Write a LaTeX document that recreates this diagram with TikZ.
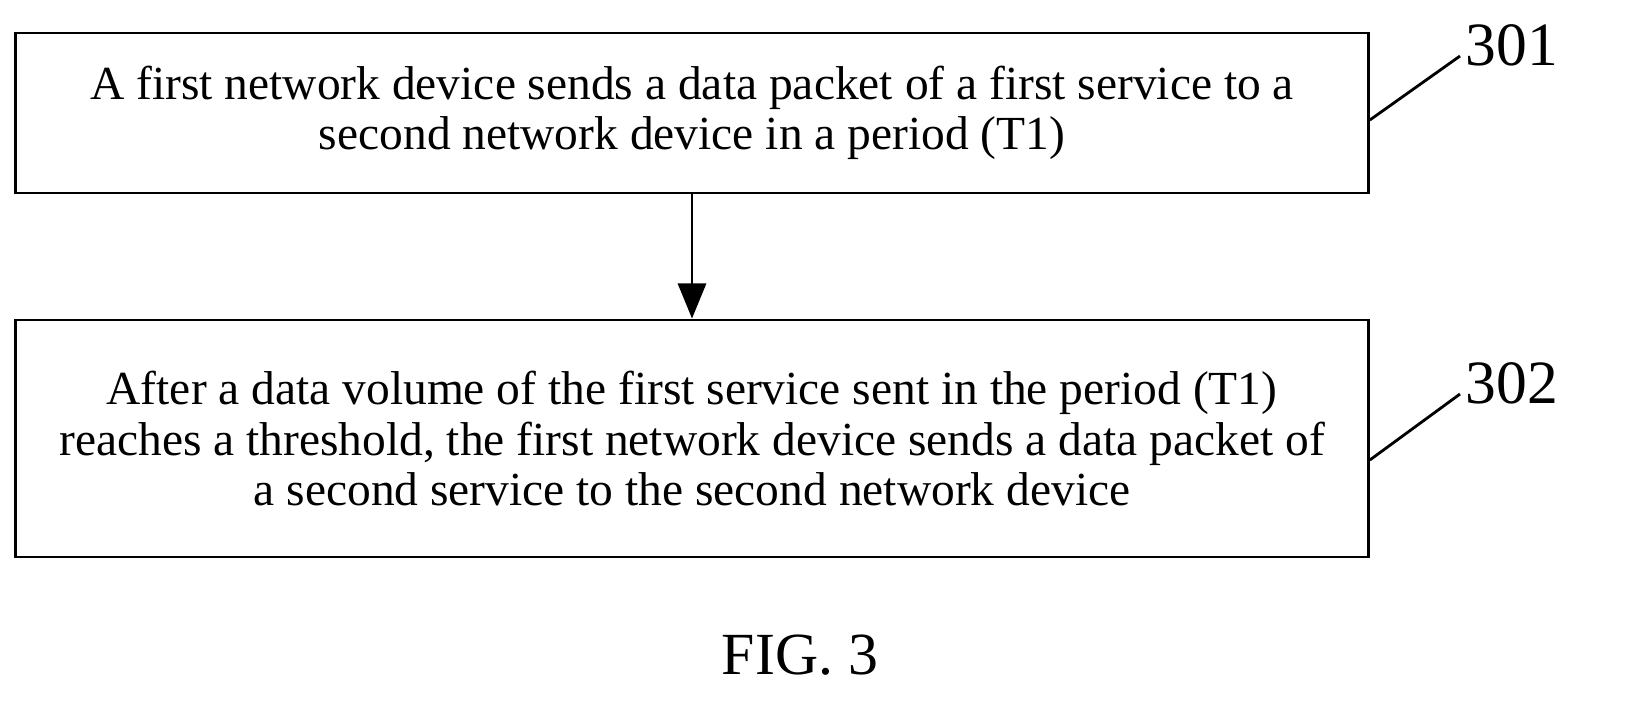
\documentclass[tikz,border=0pt]{standalone}
\usepackage{fontspec}
\setmainfont{Liberation Serif}
\usetikzlibrary{positioning,arrows.meta}
\begin{document}
\begin{tikzpicture}[%
        x = 0.01cm,
        y = -0.01cm,
        line width = 0.8pt,
        font = \fontsize{13.5}{14.4}\selectfont,
        stepbox/.style = {
            draw = black,
            minimum width = 13.52cm,
            align = center,
            inner sep = 0pt
        }
    ]

        % Page frame.
        \useasboundingbox (0,0) rectangle (1640,711);

        % The two steps.
        \node[stepbox, minimum height = 1.60cm] (s1) at (692,113)
            {A first network device sends a data packet of a first service to a\\
             second network device in a period (T1)};
        \node[stepbox, minimum height = 2.37cm] (s2) at (692,438.5)
            {After a data volume of the first service sent in the period (T1)\\
             reaches a threshold, the first network device sends a data packet of\\
             a second service to the second network device};

        % Arrow between the steps.
        \draw[-{Triangle[length=10pt,width=8pt]}] (s1) to (s2);

        % Step numbers with their leader lines.
        \node (n1) at (1512,45) {\fontsize{17.5}{20}\selectfont 301};
        \node (n2) at (1512,383) {\fontsize{17.5}{20}\selectfont 302};
        \coordinate (t1) at (1460,56);
        \coordinate (t2) at (1460,394);
        \draw (s1.east |- 0,120) to (t1);
        \draw (s2.east |- 0,460) to (t2);

        % Figure caption.
        \node (cap) at (800,655) {\fontsize{17}{20}\selectfont FIG. 3};
    \end{tikzpicture}
\end{document}
